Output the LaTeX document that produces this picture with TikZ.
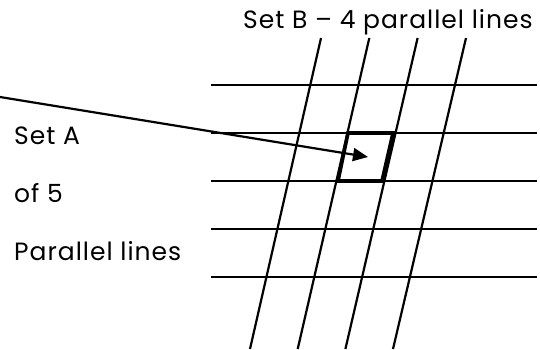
\documentclass[tikz,border=0pt]{standalone}
\usepackage{fontspec}
\setmainfont{Poppins}[LetterSpace=4]
\usetikzlibrary{arrows.meta}
\begin{document}
\begin{tikzpicture}[x=1pt,y=-1pt,
  gridline/.style={line width=2.2pt,black},
  boldbox/.style={line width=3.6pt,black,line join=miter},
  pointer/.style={line width=2.2pt,black,-{Triangle[length=15pt,width=13pt]}},
  label/.style={inner sep=0pt,anchor=base west,font=\fontsize{25}{29}\selectfont}]
\useasboundingbox (0,0) rectangle (540,349);
% Set A: horizontal lines
\foreach \y [count=\i] in {85,133,181,229,277}{
  \coordinate (hL\i) at (211,\y);
  \coordinate (hR\i) at (537,\y);
  \draw[gridline] (hL\i) -- (hR\i);
}
% Set B: slanted lines
\foreach \xt/\xb [count=\i] in {321/250,369.3/297.7,417.6/345.4,466/393}{
  \coordinate (bT\i) at (\xt,38);
  \coordinate (bB\i) at (\xb,349);
  \draw[gridline] (bT\i) -- (bB\i);
}
% highlighted cell
\coordinate (c1) at (348,133);
\coordinate (c2) at (393,133);
\coordinate (c3) at (382,181);
\coordinate (c4) at (338,181);
\draw[boldbox] (c1) -- (c2) -- (c3) -- (c4) -- cycle;
% pointer
\coordinate (pstart) at (0,97);
\coordinate (pend) at (368,157);
\draw[pointer] (pstart) -- (pend);
% labels
\node[label] (setB) at (243,28) {Set B – 4 parallel lines};
\node[label] (setA) at (14,144) {Set A};
\node[label] (of5) at (14,202) {of 5};
\node[label] (par) at (14,260) {Parallel lines};
\end{tikzpicture}
\end{document}
